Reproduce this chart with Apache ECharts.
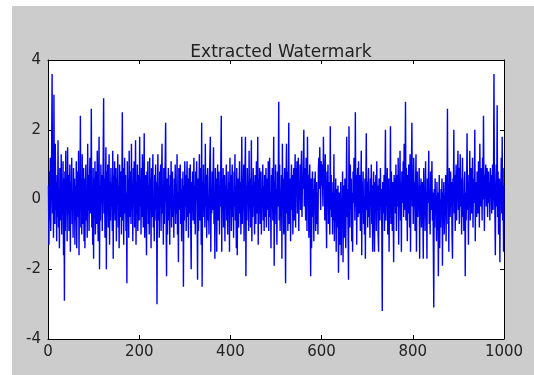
<!DOCTYPE html>
<html>
<head>
<meta charset="utf-8">
<script src="https://cdn.jsdelivr.net/npm/echarts@6/dist/echarts.min.js"></script>
<style>
html,body{margin:0;padding:0;background:#ffffff;}
#chart{width:534px;height:375px;}
</style>
</head>
<body>
<div id="chart"></div>
<script>
var titleText = 'Extracted Watermark';
var xTicks = [0, 200, 400, 600, 800, 1000];
var yTicks = [-4, -2, 0, 2, 4];

// watermark samples 1..200
var part1 = [
0.4,-1.3,0.8,-0.6,1.2,-0.9,0.3,1.5,3.6,-0.4,0.9,-1.1,3.0,0.2,-0.7,1.6,-0.3,0.5,-1.2,0.7,
-0.5,1.7,-0.8,0.2,-1.4,0.9,0.1,-0.6,1.3,-1.0,0.4,-0.2,1.1,-1.6,0.6,-2.9,0.8,-0.9,1.4,-0.1,
0.3,-1.2,1.5,-0.4,0.7,-0.9,0.2,1.0,-1.5,0.5,-0.3,1.2,-0.7,0.1,-1.1,0.9,-0.2,0.6,-1.3,0.4,
-0.6,1.1,-1.4,0.3,0.8,-0.5,1.4,-1.6,0.2,-0.3,2.4,-0.8,0.5,-1.0,1.3,0.0,-0.7,0.9,-1.2,0.6,
-1.4,0.4,1.0,-0.6,0.2,-1.1,1.6,-0.3,0.7,-0.9,0.5,1.2,-0.4,0.1,2.6,-0.8,0.3,-1.3,0.9,-1.7,
0.6,-0.5,1.1,-1.0,0.3,0.8,-0.7,1.4,-0.2,-1.2,0.5,1.8,-2.0,0.4,-0.6,1.0,-0.1,0.7,-0.9,0.2,
1.2,2.9,-0.4,0.6,-1.1,0.3,1.5,-2.0,0.8,-0.3,1.0,-0.8,0.2,1.3,-1.3,0.5,-0.6,0.9,-0.2,0.4,
-0.9,1.4,-1.7,0.7,-0.4,1.1,-0.6,0.2,0.9,-1.2,0.6,-0.1,1.3,-0.8,0.4,-1.4,1.0,0.1,-0.5,0.8,
-1.0,0.5,2.5,-0.6,0.9,-1.3,0.3,1.2,-0.4,0.7,-0.9,0.2,-2.4,1.1,-0.2,0.6,-1.1,1.4,-0.5,0.3,
0.8,-0.7,1.6,-0.3,0.4,-1.2,0.9,-0.1,1.1,-0.8,0.2,1.7,-1.3,0.5,-0.4,1.0,-0.9,0.3,0.7,-0.6
];
// samples 201..400
var part2 = [
1.8,-0.2,0.6,-1.0,0.9,-0.5,1.3,0.1,-0.8,0.4,1.9,-1.1,0.2,0.7,-0.4,-1.6,0.8,-0.3,1.1,-0.7,
0.4,-1.0,1.2,-0.2,0.6,-1.4,0.9,-0.5,0.3,1.3,-0.8,0.1,-1.2,0.7,-0.3,1.0,-0.6,0.5,-3.0,0.2,
1.3,-0.6,0.4,-1.1,0.8,-0.2,1.0,-0.9,0.5,1.6,-0.4,0.2,-1.3,0.9,-0.7,0.3,1.1,2.2,-0.5,-2.2,
0.6,-1.0,0.2,0.9,-0.6,0.4,-1.3,0.7,-0.2,1.1,-0.8,0.3,0.8,-0.5,0.1,-1.1,0.6,-0.3,1.0,-0.7,
0.4,-0.4,1.3,-1.0,0.2,-1.8,0.9,-0.3,0.5,1.0,-0.7,0.3,-1.2,0.6,-0.1,0.8,-2.5,0.4,-0.6,1.1,
-0.2,0.7,-0.9,0.3,1.1,-0.5,0.6,-1.1,0.2,0.9,-0.4,1.0,-0.8,-2.0,0.5,-0.1,0.8,-0.6,0.3,1.2,
-0.7,0.4,-1.0,0.8,0.0,1.1,-0.4,-2.3,0.6,-0.9,0.3,1.3,-0.6,0.2,0.9,-1.3,2.2,-2.5,0.5,-0.3,
1.0,-0.5,0.3,-0.8,1.6,-0.2,0.7,-1.1,0.4,0.9,-0.6,0.1,-1.0,0.6,1.2,1.8,-1.5,0.2,-0.4,0.8,
-0.3,0.5,1.5,-0.7,0.2,-1.7,0.9,-0.4,0.6,-1.5,0.3,1.0,-0.6,0.1,0.8,-1.0,0.4,-0.2,1.1,2.4,
-1.5,0.6,-0.3,0.9,-0.8,0.2,0.7,-1.2,0.4,-0.1,1.0,-0.6,0.3,-1.0,0.8,-0.4,0.5,-1.5,1.2,-0.2
];
// samples 401..600
var part3 = [
0.7,-0.9,0.3,1.0,-0.5,0.2,-1.1,0.8,-0.2,1.3,-0.6,0.4,-1.4,0.9,-1.6,0.1,0.6,-0.8,0.3,1.1,
-0.4,0.5,-1.0,0.2,1.8,-0.7,0.6,-0.3,1.0,-1.2,0.3,0.8,1.8,-2.2,0.4,-0.6,0.9,-0.1,0.5,-0.9,
1.4,-0.3,0.6,-0.8,0.2,1.7,-1.2,0.4,-0.5,0.9,-0.2,0.5,-1.0,0.7,0.1,-0.7,1.1,-0.4,0.3,1.8,
-1.3,0.6,-0.4,0.9,-0.7,0.2,0.8,-1.0,0.3,-0.2,1.0,-0.6,0.4,-0.9,0.7,0.0,-0.5,0.9,-0.8,0.3,
0.6,-0.3,1.1,-0.9,0.4,1.2,-0.5,0.2,-1.4,0.7,-0.2,0.9,-0.6,0.3,1.8,-1.9,0.5,-0.4,1.0,-0.7,
0.3,-1.3,0.8,-0.2,0.5,2.8,-0.6,1.0,-0.9,0.2,-0.4,0.7,-1.7,1.6,-0.3,0.6,-1.0,0.4,0.9,-0.5,
-2.4,0.5,1.6,-0.4,0.8,-0.9,0.3,2.2,-0.7,0.1,0.6,-1.2,0.4,1.0,-0.3,0.7,-1.0,0.2,0.9,-0.6,
0.4,1.3,-0.8,0.9,0.2,1.1,-0.4,0.7,1.2,-0.9,0.5,0.1,1.0,-0.3,0.8,1.4,-0.5,0.6,0.3,1.1,
2.0,-0.2,0.9,0.3,-0.6,1.2,0.5,-0.9,1.8,0.0,0.7,-1.1,0.4,1.0,-0.4,-2.2,0.6,-1.4,0.2,0.8,
-0.5,0.3,-1.2,0.6,-0.2,0.8,-0.9,0.1,0.5,-0.7,0.2,-1.0,0.9,1.2,0.3,1.5,0.6,-0.3,1.1,0.4
];
// samples 601..800
var part4 = [
1.0,0.5,-0.2,1.8,0.4,0.9,-0.6,1.3,0.2,-0.4,-1.4,0.8,0.1,1.0,-0.7,0.5,0.3,-1.0,2.1,-0.3,
0.7,-0.5,0.2,-1.0,0.5,-0.6,1.3,-1.2,0.1,-0.4,0.6,-1.5,0.3,-0.8,-0.1,0.4,-2.1,-0.6,0.2,-1.3,
-0.9,0.5,-1.6,0.0,-0.4,0.8,-1.8,-0.2,0.4,-1.1,0.6,-0.7,-1.4,0.2,1.8,-0.5,0.3,-0.9,-2.3,2.1,
0.4,-0.8,1.0,-0.3,0.6,-1.2,0.2,-1.5,0.8,-0.1,1.2,0.5,-0.6,2.5,-0.2,0.7,-1.3,0.3,0.9,-0.5,
1.1,-0.4,0.2,0.7,-0.9,0.3,1.4,-1.6,0.5,-0.2,0.8,-0.7,0.1,-1.0,0.6,-1.7,0.4,1.9,-0.3,0.5,
-0.8,0.3,0.9,-0.5,0.2,-1.1,0.6,-0.2,1.0,-0.7,0.4,-1.5,0.1,0.8,-0.4,-1.5,0.5,-0.1,0.7,-0.9,
1.1,-0.3,0.4,-1.0,-1.5,0.6,0.2,-0.6,0.9,-0.2,0.3,-0.8,-3.2,0.5,-0.4,0.1,0.7,-0.9,0.4,2.0,
-0.6,0.5,-0.2,0.9,-1.0,0.3,0.6,-1.5,0.2,-0.4,2.1,-0.7,0.8,0.1,-0.9,0.5,-0.3,-1.8,0.7,0.2,
0.6,-0.4,1.0,-0.9,0.3,0.7,-0.2,1.2,-1.3,0.4,0.1,1.4,-0.6,0.5,-1.5,0.8,-0.1,0.3,1.1,-0.5,
1.6,-0.3,0.5,2.8,-0.6,0.9,0.2,-1.2,0.7,-0.4,1.0,0.3,-0.8,1.3,-1.5,0.4,0.8,2.2,-0.2,0.6
];
// samples 801..1000
var part5 = [
-0.7,1.2,-0.2,0.5,-0.9,0.3,1.3,-1.5,0.1,0.8,-0.5,0.2,-0.3,0.9,-1.7,0.4,-0.1,0.6,-0.8,0.3,
0.5,-0.4,-1.7,0.9,-0.2,0.3,-0.9,1.1,-0.5,0.2,-1.7,0.6,-0.1,0.4,1.4,-0.7,0.3,-1.0,0.8,-0.3,
0.4,1.1,-0.6,0.2,-1.3,-3.1,0.3,-0.8,0.6,-0.4,0.1,-1.2,0.5,-0.9,0.2,-2.2,-0.5,0.7,-1.4,0.0,
-0.8,0.3,-0.3,0.6,-1.9,0.2,-0.6,0.5,-1.0,0.1,-0.4,0.7,-1.2,0.3,0.0,2.6,-0.7,0.4,-1.5,0.9,
0.3,-0.5,0.8,-0.2,0.5,-1.0,-1.7,0.6,0.1,2.0,-0.4,0.7,-0.9,0.4,1.0,-0.6,0.2,0.6,1.4,-0.3,
0.9,-0.7,0.4,1.3,-0.2,0.6,-1.0,0.3,1.2,-0.5,0.1,-0.9,0.5,0.8,-2.2,0.2,-0.6,0.4,1.9,-0.3,
0.7,-1.3,0.5,-0.2,1.4,-0.6,0.3,0.9,-0.4,0.2,1.2,-0.8,0.6,-0.1,0.4,2.0,-1.2,0.5,0.1,-0.5,
0.8,0.2,-0.4,1.1,0.5,-0.8,1.6,0.3,-0.2,0.9,0.4,-0.6,1.2,0.0,2.4,0.6,-0.9,0.7,0.3,1.0,
-0.2,0.6,0.9,-0.5,0.3,0.8,-0.1,0.5,-0.6,0.9,0.2,0.7,-0.4,0.4,1.0,-0.3,0.6,3.6,0.2,-0.3,
-1.6,0.4,1.0,-0.2,2.7,-0.5,0.8,-1.0,0.3,0.6,-1.8,0.5,0.1,1.2,-0.4,1.8,-0.6,0.9,-1.5,0.4
];

var values = part1.concat(part2, part3, part4, part5);
var seriesData = values.map(function (v, i) { return [i + 1, v]; });

var chart = echarts.init(document.getElementById('chart'), null, {renderer: 'canvas'});
var labelFont = {fontFamily: 'DejaVu Sans', fontSize: 15, color: '#222222'};
var tickStyle = {show: true, inside: true, length: 4, lineStyle: {color: '#000000', width: 1}};
var lineStyle = {show: true, onZero: false, lineStyle: {color: '#000000', width: 1}};
var plainFmt = function (v) { return String(v); };

chart.setOption({
  animation: false,
  backgroundColor: 'transparent',
  graphic: [{
    type: 'rect', z: -10, silent: true,
    shape: {x: 12, y: 6, width: 522, height: 369},
    style: {fill: '#cccccc'}
  }],
  title: {
    text: titleText,
    left: 276, top: 39, textAlign: 'center',
    textStyle: {fontFamily: 'DejaVu Sans', fontSize: 17, fontWeight: 'normal', color: '#222222'}
  },
  grid: {left: 48, right: 30, top: 60, bottom: 36, show: true, backgroundColor: '#ffffff', borderWidth: 0},
  xAxis: [{
    type: 'value', min: xTicks[0], max: xTicks[xTicks.length - 1], interval: 200,
    position: 'bottom',
    axisLine: lineStyle, axisTick: tickStyle,
    axisLabel: Object.assign({margin: 6, formatter: plainFmt}, labelFont),
    splitLine: {show: false}
  }, {
    type: 'value', min: xTicks[0], max: xTicks[xTicks.length - 1], interval: 200,
    position: 'top',
    axisLine: lineStyle, axisTick: tickStyle,
    axisLabel: {show: false}, splitLine: {show: false}
  }],
  yAxis: [{
    type: 'value', min: yTicks[0], max: yTicks[yTicks.length - 1], interval: 2,
    position: 'left',
    axisLine: lineStyle, axisTick: tickStyle,
    axisLabel: Object.assign({margin: 7, formatter: plainFmt}, labelFont),
    splitLine: {show: false}
  }, {
    type: 'value', min: yTicks[0], max: yTicks[yTicks.length - 1], interval: 2,
    position: 'right',
    axisLine: lineStyle, axisTick: tickStyle,
    axisLabel: {show: false}, splitLine: {show: false}
  }],
  series: [{
    type: 'line',
    xAxisIndex: 0, yAxisIndex: 0,
    data: seriesData,
    showSymbol: false,
    symbol: 'none',
    sampling: null,
    lineStyle: {color: '#0000ee', width: 1.4},
    z: 1
  }]
});
</script>
</body>
</html>
